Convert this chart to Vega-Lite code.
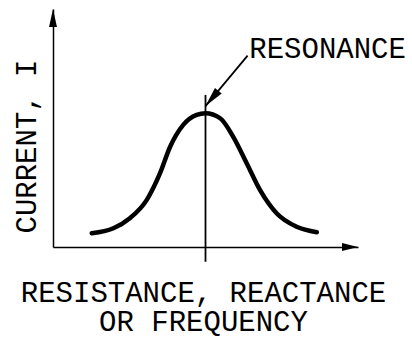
{
  "$schema": "https://vega.github.io/schema/vega-lite/v6.json",
  "width": 305,
  "height": 238,
  "autosize": {"type": "none"},
  "padding": {"left": 53, "top": 9, "right": 54, "bottom": 90},
  "background": "white",
  "config": {
    "view": {"stroke": null},
    "axis": {
      "domain": true, "domainColor": "black", "domainWidth": 1.5,
      "ticks": false, "labels": false, "grid": false,
      "titleFont": "Liberation Mono", "titleFontSize": 29, "titleFontWeight": "normal",
      "titleColor": "black"
    }
  },
  "datasets": {
    "curve": [
      {"x": 1.27, "y": 0.58},
      {"x": 1.98, "y": 0.79},
      {"x": 2.52, "y": 1.21},
      {"x": 3.07, "y": 1.97},
      {"x": 3.51, "y": 3.10},
      {"x": 3.84, "y": 4.21},
      {"x": 4.27, "y": 5.13},
      {"x": 4.71, "y": 5.55},
      {"x": 5.0, "y": 5.62},
      {"x": 5.48, "y": 5.41},
      {"x": 5.91, "y": 4.63},
      {"x": 6.35, "y": 3.52},
      {"x": 6.79, "y": 2.39},
      {"x": 7.33, "y": 1.42},
      {"x": 7.99, "y": 0.85},
      {"x": 8.65, "y": 0.62}
    ],
    "yArrow": [{"x": 0, "y": 10}],
    "xArrow": [{"x": 10, "y": 0}],
    "resonance": [{"x": 5.0, "y": 6.39, "y2": -0.62}],
    "pointer": [{"x": 6.38, "y": 8.04, "x2": 5.0, "y2": 5.92, "label": "RESONANCE"}]
  },
  "layer": [
    {
      "data": {"name": "curve"},
      "mark": {"type": "line", "color": "black", "strokeWidth": 4.5, "strokeCap": "round", "interpolate": "monotone"},
      "encoding": {
        "x": {
          "field": "x", "type": "quantitative",
          "scale": {"domain": [0, 10], "nice": false, "zero": false},
          "axis": {
            "title": ["RESISTANCE, REACTANCE", "OR FREQUENCY"],
            "titleX": 150, "titleY": 54.7,
            "titleAlign": "center", "titleBaseline": "alphabetic", "titleLineHeight": 28.5
          }
        },
        "y": {
          "field": "y", "type": "quantitative",
          "scale": {"domain": [0, 10], "nice": false, "zero": false},
          "axis": {
            "title": "CURRENT, I",
            "titleAngle": -90, "titleX": -18, "titleY": 137,
            "titleAlign": "center", "titleBaseline": "alphabetic"
          }
        }
      }
    },
    {
      "data": {"name": "resonance"},
      "mark": {"type": "rule", "color": "black", "strokeWidth": 1.8},
      "encoding": {
        "x": {"field": "x", "type": "quantitative", "scale": {"domain": [0, 10], "nice": false, "zero": false}},
        "y": {"field": "y", "type": "quantitative", "scale": {"domain": [0, 10], "nice": false, "zero": false}},
        "y2": {"field": "y2"}
      }
    },
    {
      "data": {"name": "pointer"},
      "mark": {"type": "rule", "color": "black", "strokeWidth": 1.8},
      "encoding": {
        "x": {"field": "x", "type": "quantitative", "scale": {"domain": [0, 10], "nice": false, "zero": false}},
        "y": {"field": "y", "type": "quantitative", "scale": {"domain": [0, 10], "nice": false, "zero": false}},
        "x2": {"field": "x2"},
        "y2": {"field": "y2"}
      }
    },
    {
      "data": {"name": "pointer"},
      "mark": {"type": "point", "shape": "M0,0L-0.22,1L0.22,1Z", "size": 1600, "filled": true, "color": "black", "opacity": 1, "angle": 220},
      "encoding": {
        "x": {"field": "x2", "type": "quantitative", "scale": {"domain": [0, 10], "nice": false, "zero": false}},
        "y": {"field": "y2", "type": "quantitative", "scale": {"domain": [0, 10], "nice": false, "zero": false}}
      }
    },
    {
      "data": {"name": "pointer"},
      "mark": {"type": "text", "font": "Liberation Mono", "fontSize": 29, "color": "black", "align": "left", "baseline": "alphabetic", "dx": 1.7, "dy": 2.6},
      "encoding": {
        "x": {"field": "x", "type": "quantitative", "scale": {"domain": [0, 10], "nice": false, "zero": false}},
        "y": {"field": "y", "type": "quantitative", "scale": {"domain": [0, 10], "nice": false, "zero": false}},
        "text": {"field": "label"}
      }
    },
    {
      "data": {"name": "yArrow"},
      "mark": {"type": "point", "shape": "M0,0L-0.22,1L0.22,1Z", "size": 1296, "filled": true, "color": "black", "opacity": 1, "angle": 0},
      "encoding": {
        "x": {"field": "x", "type": "quantitative", "scale": {"domain": [0, 10], "nice": false, "zero": false}},
        "y": {"field": "y", "type": "quantitative", "scale": {"domain": [0, 10], "nice": false, "zero": false}}
      }
    },
    {
      "data": {"name": "xArrow"},
      "mark": {"type": "point", "shape": "M0,0L-0.25,1L0.25,1Z", "size": 1024, "filled": true, "color": "black", "opacity": 1, "angle": 90},
      "encoding": {
        "x": {"field": "x", "type": "quantitative", "scale": {"domain": [0, 10], "nice": false, "zero": false}},
        "y": {"field": "y", "type": "quantitative", "scale": {"domain": [0, 10], "nice": false, "zero": false}}
      }
    }
  ]
}
